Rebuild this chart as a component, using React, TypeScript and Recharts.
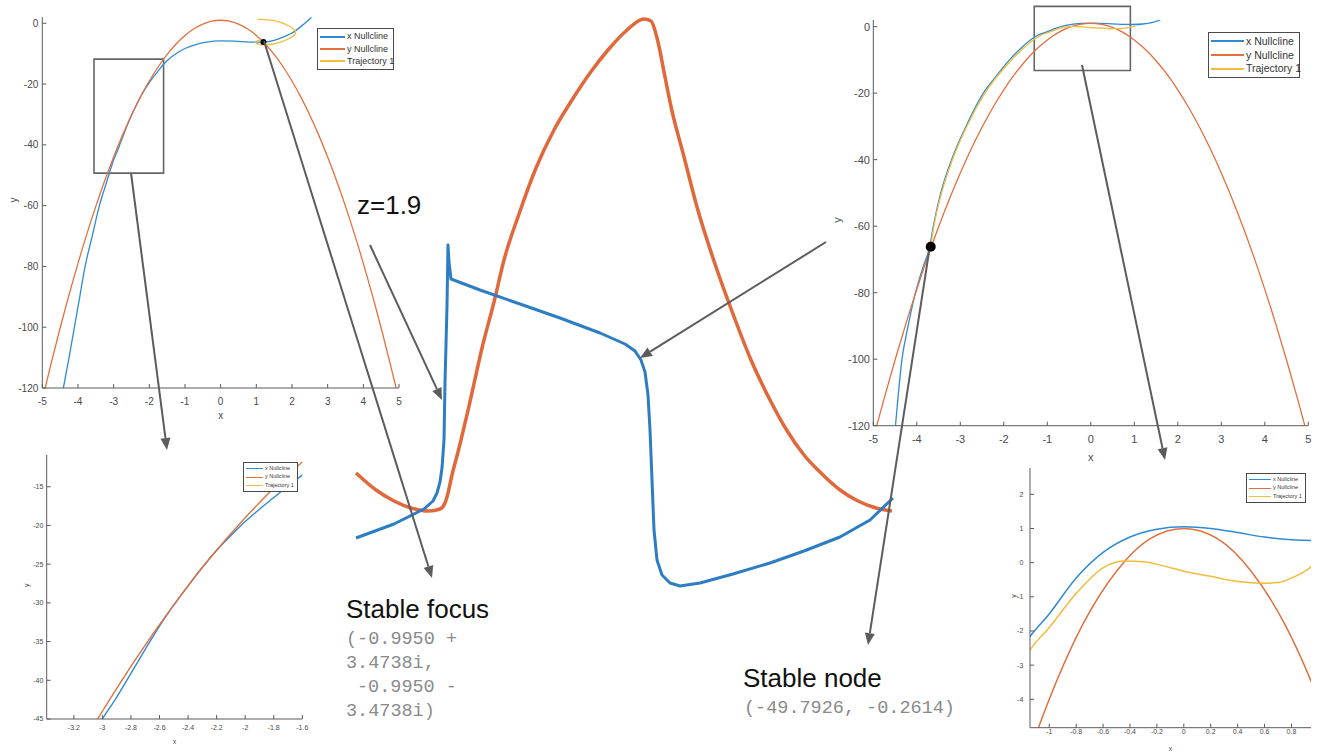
import React from "react";
import {
  LineChart,
  Line,
  XAxis,
  YAxis,
  Legend,
  Label,
  ReferenceArea,
  ReferenceDot,
} from "recharts";

type Pt = [number, number];
type Curve = "monotone" | "natural" | "linear";

const FONT = '"Liberation Sans", Arial, Helvetica, sans-serif';
const MONO = '"Liberation Mono", "Courier New", monospace';

const BLUE = "#2f8ad3";
const RED = "#e2703f";
const YELLOW = "#f0bd3c";

const SERIES_NAMES = ["x Nullcline", "y Nullcline", "Trajectory 1"];

// y-nullcline (same parabola in every phase plane)
const Y_NULLCLINE: Pt[] = [
  [-4.92, -120], [-4.75, -111.8], [-4.5, -100.25], [-4.25, -89.3], [-4, -79],
  [-3.75, -69.3], [-3.5, -60.25], [-3.25, -51.8], [-3, -44], [-2.75, -36.8],
  [-2.5, -30.25], [-2.25, -24.3], [-2, -19], [-1.75, -14.3], [-1.5, -10.25],
  [-1.25, -6.8], [-1, -4], [-0.75, -1.8], [-0.5, -0.25], [-0.25, 0.7], [0, 1],
  [0.25, 0.7], [0.5, -0.25], [0.75, -1.8], [1, -4], [1.25, -6.8], [1.5, -10.25],
  [1.75, -14.3], [2, -19], [2.25, -24.3], [2.5, -30.25], [2.75, -36.8], [3, -44],
  [3.25, -51.8], [3.5, -60.25], [3.75, -69.3], [4, -79], [4.25, -89.3],
  [4.5, -100.25], [4.75, -111.8], [4.92, -120],
];

// left phase plane: x-nullcline, spiralling trajectory, focus, zoom window
const X_NULLCLINE_A: Pt[] = [
  [-4.41, -120], [-4.25, -110], [-4.1, -100], [-3.95, -90], [-3.8, -80],
  [-3.6, -70], [-3.4, -60], [-3.2, -52.4], [-3, -45], [-2.9, -42.2],
  [-2.8, -39.1], [-2.7, -36], [-2.6, -33], [-2.5, -30.3], [-2.4, -27.8],
  [-2.3, -25.4], [-2.2, -23.2], [-2.1, -21.3], [-2, -19.5], [-1.9, -17.9],
  [-1.8, -16.4], [-1.7, -14.9], [-1.6, -13.5], [-1.4, -11.3], [-1.2, -9.6],
  [-1, -8.3], [-0.7, -7], [-0.4, -6.2], [0, -5.8], [0.4, -5.9], [0.8, -6.2],
  [1.2, -6.2], [1.5, -5.6], [1.8, -4.3], [2, -3.2], [2.3, -0.6], [2.55, 2],
];
const TRAJECTORY_A: Pt[] = [
  [1.03, 1.3], [1.35, 1.1], [1.65, 0.4], [1.9, -0.8], [2.08, -2.3], [2.08, -3.7],
  [1.92, -5.0], [1.68, -6.2], [1.42, -6.9], [1.18, -7.1], [1.02, -6.7],
  [0.98, -6.1], [1.07, -5.6], [1.2, -5.7], [1.24, -6.0], [1.2, -6.2],
];
const FOCUS_A: Pt = [1.2, -6.2];
const WINDOW_A = { x: [-3.55, -1.6], y: [-49.3, -11.8] };

// right phase plane: x-nullcline, trajectory into the node, zoom window
const X_NULLCLINE_B: Pt[] = [
  [-4.49, -120], [-4.34, -100], [-4.2, -90], [-4.03, -80], [-3.85, -72],
  [-3.7, -66], [-3.62, -60], [-3.45, -50], [-3.2, -40], [-2.87, -30],
  [-2.47, -20], [-2.2, -15.3], [-1.87, -10], [-1.6, -6.4], [-1.3, -3.2],
  [-1.15, -2.2], [-1, -1.5], [-0.8, -0.45], [-0.6, 0.3], [-0.4, 0.75],
  [-0.2, 0.98], [0, 1.05], [0.2, 1.0], [0.4, 0.88], [0.6, 0.75], [0.8, 0.67],
  [0.95, 0.65], [1.2, 0.8], [1.4, 1.2], [1.6, 2.0],
];
const TRAJECTORY_B: Pt[] = [
  [-3.68, -66], [-3.6, -59.5], [-3.43, -50], [-3.18, -40], [-2.85, -30],
  [-2.45, -20.3], [-1.85, -10.4], [-1.58, -6.9], [-1.3, -3.8], [-1.15, -2.6],
  [-1, -1.9], [-0.8, -0.9], [-0.6, -0.15], [-0.45, 0.05], [-0.3, 0.03],
  [-0.2, -0.05], [0, -0.25], [0.2, -0.4], [0.4, -0.55], [0.6, -0.6],
  [0.7, -0.58], [0.8, -0.45], [0.95, -0.1], [1.02, 0.2],
];
const NODE_B: Pt = [-3.68, -66.2];
const WINDOW_B = { x: [-1.3, 0.91], y: [-13.2, 6.1] };

// centre trace (no axes, arbitrary units)
const TRACE_RED: Pt[] = [
  [16, 127], [36, 110], [54, 99], [71, 92], [89, 89], [100, 91], [105, 97],
  [107, 103], [112, 125], [118, 148], [129, 194], [143, 256], [154, 298],
  [164, 340], [179, 386], [196, 432], [214, 470], [232, 500], [250, 527],
  [268, 550], [286, 569], [304, 581], [311, 579], [318, 558], [325, 523],
  [332, 489], [343, 447], [357, 393], [375, 336], [393, 286], [411, 240],
  [429, 202], [446, 171], [464, 145], [482, 126], [500, 110], [518, 99],
  [536, 92], [552, 89],
];
const TRACE_BLUE: Pt[] = [
  [16, 62], [54, 76], [70, 84], [84, 91], [93, 99], [97, 107], [100, 118],
  [102, 132], [104, 160], [105, 217], [107, 294], [108, 355], [109, 338],
  [111, 321], [140, 310], [180, 296], [220, 282], [260, 267], [285, 256],
  [295, 249], [301, 240], [305, 228], [308, 205], [310, 170], [312, 120],
  [314, 70], [317, 40], [322, 25], [330, 17], [340, 14], [360, 17], [393, 26],
  [430, 37], [464, 49], [500, 63], [530, 80], [553, 102],
];

const TICKS_WIDE_X = [-5, -4, -3, -2, -1, 0, 1, 2, 3, 4, 5];
const TICKS_WIDE_Y = [-120, -100, -80, -60, -40, -20, 0];
const TICKS_A_X = [-3.2, -3, -2.8, -2.6, -2.4, -2.2, -2, -1.8, -1.6];
const TICKS_A_Y = [-45, -40, -35, -30, -25, -20, -15];
const TICKS_B_X = [-1, -0.8, -0.6, -0.4, -0.2, 0, 0.2, 0.4, 0.6, 0.8];
const TICKS_B_Y = [-4, -3, -2, -1, 0, 1, 2];

// annotation arrows in page pixels: [x1, y1, x2, y2], head at (x2, y2)
const ARROWS: [number, number, number, number][] = [
  [131, 173, 167, 450],
  [264, 41, 432, 578],
  [370, 245, 442, 400],
  [826, 242, 640, 358],
  [1082, 65, 1165, 460],
  [929, 252, 868, 645],
];

const toRows = (pts: Pt[]) => pts.map(([x, y]) => ({ x, y }));

type LegendSpec = {
  left: number;
  top: number;
  width: number;
  height: number;
  font: number;
  sample: number;
  lineW: number;
};

function LegendBox({ payload, spec }: { payload?: any[]; spec: LegendSpec }) {
  // keep the plotting order rather than the alphabetical one
  const items = [...(payload ?? [])].sort(
    (a, b) => SERIES_NAMES.indexOf(a.value) - SERIES_NAMES.indexOf(b.value)
  );
  return (
    <div
      style={{
        width: spec.width,
        height: spec.height,
        boxSizing: "border-box",
        border: "1.5px solid #4a4a4a",
        background: "#fff",
        display: "flex",
        flexDirection: "column",
        justifyContent: "space-evenly",
        padding: "0 2px",
        fontFamily: FONT,
        fontSize: spec.font,
        color: "#333",
        lineHeight: 1,
      }}
    >
      {items.map((item) => (
        <div key={item.value} style={{ display: "flex", alignItems: "center", whiteSpace: "nowrap" }}>
          <span
            style={{
              width: spec.sample,
              height: 0,
              borderTop: `${spec.lineW}px solid ${item.color}`,
              marginRight: 2,
              flex: "none",
            }}
          />
          {item.value}
        </div>
      ))}
    </div>
  );
}

type Series = { name: string; color: string; data: Pt[]; curve: Curve };

type PanelProps = {
  left: number;
  top: number;
  width: number;
  height: number;
  margin: { top: number; right: number; bottom: number; left: number };
  yAxisWidth: number;
  xAxisHeight: number;
  xDomain: [number, number];
  yDomain: [number, number];
  xTicks: number[];
  yTicks: number[];
  font: number;
  xTickGap: number;
  yTickGap: number;
  yLabelOffset: number;
  strokeWidth: number;
  series: Series[];
  legend: LegendSpec;
  children?: React.ReactNode;
};

function PhasePanel(p: PanelProps) {
  const tick = { fontSize: p.font, fill: "#4a4a4a", fontFamily: FONT };
  return (
    <div style={{ position: "absolute", left: p.left, top: p.top }}>
      <LineChart width={p.width} height={p.height} margin={p.margin}>
        <XAxis
          type="number"
          dataKey="x"
          domain={p.xDomain}
          ticks={p.xTicks}
          allowDataOverflow
          interval={0}
          height={p.xAxisHeight}
          tick={tick}
          tickSize={-4}
          tickMargin={p.xTickGap}
          stroke="#5a5a5a"
        >
          <Label value="x" position="insideBottom" offset={0} style={{ fontSize: p.font, fill: "#4a4a4a", fontFamily: FONT }} />
        </XAxis>
        <YAxis
          type="number"
          dataKey="y"
          domain={p.yDomain}
          ticks={p.yTicks}
          allowDataOverflow
          interval={0}
          width={p.yAxisWidth}
          tick={tick}
          tickSize={-4}
          tickMargin={p.yTickGap}
          stroke="#5a5a5a"
        >
          <Label value="y" position="insideLeft" angle={-90} offset={p.yLabelOffset} style={{ fontSize: p.font, fill: "#4a4a4a", fontFamily: FONT }} />
        </YAxis>
        {p.series.map((s) => (
          <Line
            key={s.name}
            name={s.name}
            data={toRows(s.data)}
            dataKey="y"
            type={s.curve}
            stroke={s.color}
            strokeWidth={p.strokeWidth}
            dot={false}
            activeDot={false}
            isAnimationActive={false}
          />
        ))}
        {p.children}
        <Legend
          layout="vertical"
          align="center"
          verticalAlign="middle"
          wrapperStyle={{ left: p.legend.left, top: p.legend.top, width: "auto" }}
          content={(props: any) => <LegendBox payload={props.payload} spec={p.legend} />}
        />
      </LineChart>
    </div>
  );
}

function Arrow({ x1, y1, x2, y2 }: { x1: number; y1: number; x2: number; y2: number }) {
  const len = Math.hypot(x2 - x1, y2 - y1);
  const ux = (x2 - x1) / len;
  const uy = (y2 - y1) / len;
  const head = 12;
  const half = 5;
  const bx = x2 - ux * head;
  const by = y2 - uy * head;
  const pts = `${x2},${y2} ${bx - uy * half},${by + ux * half} ${bx + uy * half},${by - ux * half}`;
  return (
    <g>
      <line x1={x1} y1={y1} x2={bx} y2={by} stroke="#5c5c5c" strokeWidth={2} />
      <polygon points={pts} fill="#5c5c5c" />
    </g>
  );
}

const seriesA: Series[] = [
  { name: SERIES_NAMES[0], color: BLUE, data: X_NULLCLINE_A, curve: "monotone" },
  { name: SERIES_NAMES[1], color: RED, data: Y_NULLCLINE, curve: "monotone" },
  { name: SERIES_NAMES[2], color: YELLOW, data: TRAJECTORY_A, curve: "natural" },
];
const seriesB: Series[] = [
  { name: SERIES_NAMES[0], color: BLUE, data: X_NULLCLINE_B, curve: "monotone" },
  { name: SERIES_NAMES[1], color: RED, data: Y_NULLCLINE, curve: "monotone" },
  { name: SERIES_NAMES[2], color: YELLOW, data: TRAJECTORY_B, curve: "monotone" },
];

export default function App() {
  return (
    <div
      style={{
        position: "absolute",
        left: 0,
        top: 0,
        width: 1321,
        height: 753,
        background: "#fff",
        overflow: "hidden",
      }}
    >
      {/* centre trace */}
      <div style={{ position: "absolute", left: 340, top: 0 }}>
        <LineChart width={570} height={600} margin={{ top: 0, right: 0, bottom: 0, left: 0 }}>
          <XAxis type="number" dataKey="x" domain={[0, 570]} hide allowDataOverflow />
          <YAxis type="number" dataKey="y" domain={[0, 600]} hide allowDataOverflow />
          <Line data={toRows(TRACE_RED)} dataKey="y" type="monotone" stroke="#e1683a" strokeWidth={3.5} dot={false} activeDot={false} isAnimationActive={false} />
          <Line data={toRows(TRACE_BLUE)} dataKey="y" type="linear" stroke="#2c7dc3" strokeWidth={3} strokeLinejoin="round" dot={false} activeDot={false} isAnimationActive={false} />
        </LineChart>
      </div>

      {/* left phase plane */}
      <PhasePanel
        left={0}
        top={0}
        width={410}
        height={430}
        margin={{ top: 17.2, right: 11, bottom: 11, left: 2.3 }}
        yAxisWidth={40}
        xAxisHeight={31}
        xDomain={[-5, 5]}
        yDomain={[-120, 2]}
        xTicks={TICKS_WIDE_X}
        yTicks={TICKS_WIDE_Y}
        font={10}
        xTickGap={14}
        yTickGap={8}
        yLabelOffset={11}
        strokeWidth={1.3}
        series={seriesA}
        legend={{ left: 317, top: 28, width: 77, height: 42, font: 9, sample: 25, lineW: 2 }}
      >
        <ReferenceArea x1={WINDOW_A.x[0]} x2={WINDOW_A.x[1]} y1={WINDOW_A.y[0]} y2={WINDOW_A.y[1]} fill="none" stroke="#666" strokeWidth={1.6} ifOverflow="visible" />
        <ReferenceDot x={FOCUS_A[0]} y={FOCUS_A[1]} r={3} fill="#000" stroke="none" ifOverflow="visible" />
      </PhasePanel>

      {/* left zoom */}
      <PhasePanel
        left={0}
        top={440}
        width={320}
        height={313}
        margin={{ top: 15, right: 17.7, bottom: 9, left: 6.7 }}
        yAxisWidth={40}
        xAxisHeight={25}
        xDomain={[-3.39, -1.6]}
        yDomain={[-45, -10.9]}
        xTicks={TICKS_A_X}
        yTicks={TICKS_A_Y}
        font={7}
        xTickGap={10}
        yTickGap={7.4}
        yLabelOffset={20}
        strokeWidth={1.4}
        series={seriesA}
        legend={{ left: 243, top: 22, width: 55, height: 30, font: 5.5, sample: 17, lineW: 1 }}
      />

      {/* right phase plane */}
      <PhasePanel
        left={830}
        top={0}
        width={491}
        height={470}
        margin={{ top: 20, right: 12.7, bottom: 9.3, left: 3.3 }}
        yAxisWidth={40}
        xAxisHeight={35}
        xDomain={[-5, 5]}
        yDomain={[-120, 2]}
        xTicks={TICKS_WIDE_X}
        yTicks={TICKS_WIDE_Y}
        font={11}
        xTickGap={13}
        yTickGap={7.3}
        yLabelOffset={4}
        strokeWidth={1.3}
        series={seriesB}
        legend={{ left: 378, top: 32, width: 92, height: 46, font: 10.5, sample: 33, lineW: 2 }}
      >
        <ReferenceArea x1={WINDOW_B.x[0]} x2={WINDOW_B.x[1]} y1={WINDOW_B.y[0]} y2={WINDOW_B.y[1]} fill="none" stroke="#666" strokeWidth={1.6} ifOverflow="visible" />
        <ReferenceDot x={NODE_B[0]} y={NODE_B[1]} r={5} fill="#000" stroke="none" ifOverflow="visible" />
      </PhasePanel>

      {/* right zoom */}
      <PhasePanel
        left={1000}
        top={460}
        width={321}
        height={293}
        margin={{ top: 8, right: 10, bottom: 2, left: 0 }}
        yAxisWidth={30}
        xAxisHeight={23.3}
        xDomain={[-1.143, 0.945]}
        yDomain={[-4.83, 2.77]}
        xTicks={TICKS_B_X}
        yTicks={TICKS_B_Y}
        font={7}
        xTickGap={5.5}
        yTickGap={10.7}
        yLabelOffset={14}
        strokeWidth={1.5}
        series={seriesB}
        legend={{ left: 246, top: 13, width: 60, height: 30, font: 5.5, sample: 22, lineW: 1 }}
      />

      {/* labels and arrows */}
      <svg width={1321} height={753} style={{ position: "absolute", left: 0, top: 0, pointerEvents: "none" }}>
        <text x={357} y={214} fontFamily={FONT} fontSize={26} fill="#111">z=1.9</text>
        <text x={346} y={618} fontFamily={FONT} fontSize={26} fill="#111">Stable focus</text>
        <g fontFamily={MONO} fontSize={18.5} fill="#8a8a8a">
          <text x={346} y={644}>(-0.9950 +</text>
          <text x={346} y={668}>3.4738i,</text>
          <text x={357} y={692}>-0.9950 -</text>
          <text x={346} y={716}>3.4738i)</text>
        </g>
        <text x={743} y={687} fontFamily={FONT} fontSize={26} fill="#111">Stable node</text>
        <text x={744} y={713} fontFamily={MONO} fontSize={18.5} fill="#8a8a8a">(-49.7926, -0.2614)</text>
        {ARROWS.map(([x1, y1, x2, y2], i) => (
          <Arrow key={i} x1={x1} y1={y1} x2={x2} y2={y2} />
        ))}
      </svg>
    </div>
  );
}
